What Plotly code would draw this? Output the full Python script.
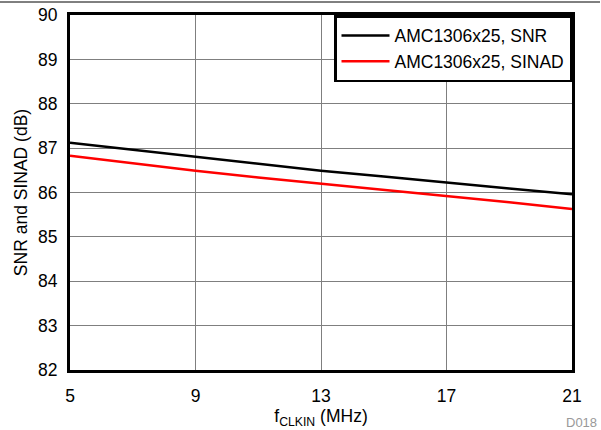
import plotly.graph_objects as go

fclk = [5, 7, 9, 11, 13, 15, 17, 19, 21]
snr = [87.12, 86.96, 86.80, 86.64, 86.49, 86.36, 86.22, 86.09, 85.96]
sinad = [86.83, 86.66, 86.49, 86.34, 86.20, 86.06, 85.93, 85.78, 85.63]
x_ticks = [5, 9, 13, 17, 21]
y_ticks = [82, 83, 84, 85, 86, 87, 88, 89, 90]

FONT = "Liberation Sans, Arial, sans-serif"
FS = 17.5

fig = go.Figure()
fig.add_trace(go.Scatter(x=fclk, y=snr, mode="lines", name="AMC1306x25, SNR",
                         line=dict(color="black", width=2.5)))
fig.add_trace(go.Scatter(x=fclk, y=sinad, mode="lines", name="AMC1306x25, SINAD",
                         line=dict(color="red", width=2.5)))

L, R, T, B = 70, 29, 15, 60
pw = 601 - L - R
ph = 430 - T - B

fig.update_layout(
    width=601, height=430,
    margin=dict(l=L, r=R, t=T, b=B, autoexpand=False),
    paper_bgcolor="white", plot_bgcolor="white",
    font=dict(family=FONT, size=FS, color="black"),
    showlegend=True,
    legend=dict(x=1, xanchor="right", y=1, yanchor="top",
                bgcolor="white", bordercolor="black", borderwidth=2.5,
                font=dict(size=FS), tracegroupgap=0, itemwidth=48),
    xaxis=dict(range=[5, 21], tickvals=x_ticks, showgrid=True, gridcolor="#7f7f7f",
               gridwidth=1, zeroline=False, showline=True, linecolor="black",
               linewidth=3, mirror=True, ticks="", ticklabelstandoff=8, automargin=False,
               title=dict(text="f<sub>CLKIN</sub> (MHz)", font=dict(size=FS), standoff=2)),
    yaxis=dict(range=[82, 90], tickvals=y_ticks, showgrid=True, gridcolor="#7f7f7f",
               gridwidth=1, zeroline=False, showline=True, linecolor="black",
               linewidth=3, mirror=True, ticks="", ticklabelstandoff=6, automargin=False,
               title=dict(text="SNR and SINAD (dB)", font=dict(size=FS), standoff=6)),
)

fig.add_shape(type="line", xref="paper", yref="paper",
              x0=-L / pw, x1=(600 - L) / pw, y0=(ph + T - 2) / ph, y1=(ph + T - 2) / ph,
              line=dict(color="black", width=1))
fig.add_annotation(text="D018", xref="paper", yref="paper",
                   x=(599 - L) / pw, y=-(422 - T - ph) / ph, xanchor="right", yanchor="middle",
                   showarrow=False, font=dict(size=13, color="#999999"))

fig.write_html("out.html")
